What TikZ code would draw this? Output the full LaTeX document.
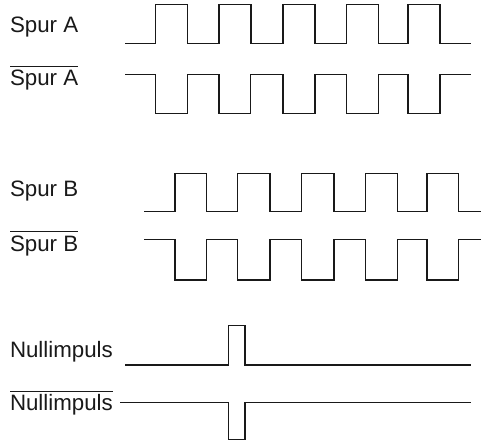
\documentclass[tikz,border=0pt]{standalone}
\usepackage{fontspec}
\setmainfont{Liberation Sans}
\newcommand\barlabel[1]{\setbox0\hbox{#1}\rlap{\raisebox{19.3pt}{\rule{\wd0}{0.9pt}}}\box0}
\begin{document}
\begin{tikzpicture}[x=1pt,y=-1pt,
  sig/.style={line width=1.5pt, color=black!90},
  lbl/.style={anchor=base west, inner sep=0pt, outer sep=0pt, text=black!90, font=\fontsize{22.3}{27}\selectfont}]
\useasboundingbox (0,0) rectangle (483,441);
% labels
\node[lbl] (la)  at (10,32.5)  {Spur A};
\node[lbl] (lab) at (10,86)    {\barlabel{Spur A}};
\node[lbl] (lb)  at (10,196.7) {Spur B};
\node[lbl] (lbb) at (10,251.7) {\barlabel{Spur B}};
\node[lbl] (ln)  at (10,357.7) {Nullimpuls};
\node[lbl] (lnb) at (10,411)   {\barlabel{Nullimpuls}};
% Spur A
\draw[sig] (125,43.3) -| (155.7,4.7) -| (187.7,43.3) -| (219,4.7) -| (251,43.3) -| (283,4.7) -| (315,43.3) -| (346.7,4.7) -| (378.7,43.3) -| (408,4.7) -| (440,43.3) -- (470.5,43.3);
% Spur A bar
\draw[sig] (125,74.7) -| (155.7,113.3) -| (187.7,74.7) -| (219,113.3) -| (250.7,74.7) -| (283,113.3) -| (315,74.7) -| (346.7,113.3) -| (378.7,74.7) -| (408,113.3) -| (440,74.7) -- (470.5,74.7);
% Spur B
\draw[sig] (144,211.7) -| (175,173.3) -| (206.7,211.7) -| (237.7,173.3) -| (270,211.7) -| (301.7,173.3) -| (334,211.7) -| (365.7,173.3) -| (397.3,211.7) -| (427,173.3) -| (458.7,211.7) -- (481,211.7);
% Spur B bar
\draw[sig] (144,239.3) -| (175,280) -| (206.7,239.3) -| (237.7,280) -| (270,239.3) -| (301.7,280) -| (334,239.3) -| (365.7,280) -| (397.3,239.3) -| (427,280) -| (458.7,239.3) -- (481,239.3);
% Nullimpuls
\draw[sig] (125,365) -| (228.7,325.7) -| (245,365) -- (471,365);
% Nullimpuls bar
\draw[sig] (120,402.3) -| (228.7,439.3) -| (245,402.3) -- (471,402.3);
\end{tikzpicture}
\end{document}
